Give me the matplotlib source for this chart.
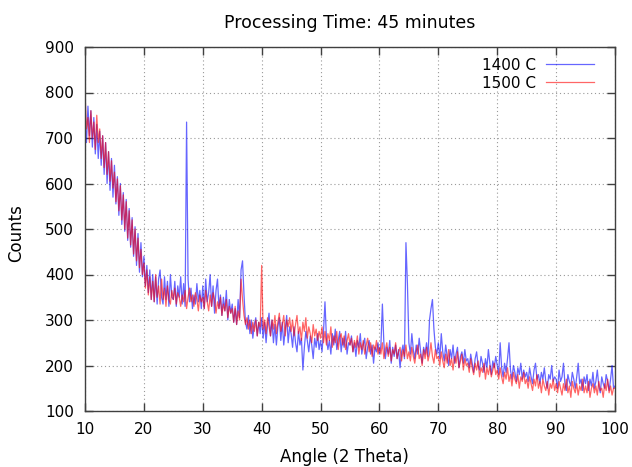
import numpy as np
import matplotlib
matplotlib.use("Agg")
from matplotlib import pyplot as plt

# angle grid: 10 .. 100 deg, 0.25 deg step
angle = np.arange(361) * 0.25 + 10.0

counts_1400 = [
    735, 690, 770, 705, 760, 680, 745, 665, 730, 655, 715, 640, 705, 620, 690, 600, 670, 585, 655, 570,
    640, 555, 615, 530, 600, 510, 580, 495, 565, 475, 545, 460, 525, 440, 505, 420, 490, 405, 470, 395,
    440, 375, 420, 360, 410, 345, 400, 340, 395, 335, 390, 410, 350, 335, 395, 345, 385, 330, 400, 350,
    345, 385, 330, 375, 350, 395, 335, 380, 330, 735, 390, 340, 370, 325, 355, 335, 380, 340, 365, 325,
    375, 325, 390, 340, 360, 400, 330, 375, 315, 365, 390, 325, 355, 310, 350, 320, 365, 300, 345, 315,
    335, 295, 325, 290, 345, 305, 410, 430, 355, 295, 280, 310, 270, 300, 260, 290, 305, 265, 295, 270,
    305, 260, 295, 250, 290, 315, 265, 300, 250, 290, 245, 285, 305, 255, 295, 245, 280, 310, 250, 285,
    270, 240, 285, 250, 230, 275, 245, 260, 190, 240, 275, 255, 230, 265, 245, 215, 260, 240, 270, 235,
    255, 230, 275, 340, 260, 235, 255, 225, 270, 245, 280, 235, 255, 275, 230, 260, 240, 275, 225, 250,
    245, 265, 230, 250, 220, 255, 240, 270, 225, 245, 260, 215, 240, 255, 225, 245, 205, 240, 230, 250,
    225, 245, 335, 250, 215, 240, 225, 255, 205, 240, 220, 245, 215, 235, 195, 230, 245, 215, 470, 380,
    250, 225, 270, 235, 215, 245, 225, 260, 230, 205, 240, 225, 250, 220, 300, 325, 345, 280, 240, 225,
    250, 215, 270, 230, 210, 245, 220, 200, 235, 215, 245, 205, 225, 240, 195, 220, 230, 205, 235, 210,
    215, 195, 225, 205, 185, 215, 230, 200, 190, 220, 205, 185, 215, 195, 235, 205, 180, 210, 195, 220,
    200, 180, 250, 195, 175, 205, 185, 215, 250, 190, 170, 200, 185, 165, 195, 180, 205, 170, 190, 175,
    185, 165, 195, 175, 160, 190, 205, 170, 180, 160, 185, 170, 195, 165, 150, 180, 170, 200, 165, 175,
    170, 150, 190, 165, 175, 205, 160, 145, 180, 165, 155, 185, 170, 150, 175, 205, 160, 170, 145, 175,
    160, 180, 145, 170, 155, 185, 150, 165, 190, 155, 140, 175, 160, 150, 180, 165, 145, 170, 200, 150,
    155,
]

counts_1500 = [
    800, 720, 745, 690, 760, 700, 735, 675, 750, 690, 720, 655, 705, 635, 690, 620, 670, 605, 650, 590,
    625, 560, 610, 540, 595, 520, 575, 500, 560, 480, 540, 465, 520, 445, 500, 430, 480, 415, 455, 400,
    425, 370, 410, 355, 395, 345, 385, 340, 400, 350, 375, 335, 390, 345, 370, 330, 375, 345, 335, 365,
    345, 370, 335, 360, 350, 330, 355, 340, 365, 325, 350, 370, 340, 355, 330, 360, 345, 320, 355, 340,
    350, 325, 365, 340, 320, 355, 330, 360, 345, 315, 340, 325, 350, 310, 335, 320, 345, 305, 330, 315,
    325, 295, 330, 290, 320, 300, 390, 345, 310, 290, 305, 280, 300, 270, 295, 275, 300, 265, 295, 285,
    420, 280, 300, 270, 305, 285, 265, 300, 280, 310, 270, 295, 315, 275, 290, 310, 265, 300, 285, 305,
    275, 300, 265, 290, 310, 270, 285, 255, 295, 275, 305, 260, 285, 270, 250, 290, 265, 280, 255, 275,
    260, 285, 250, 275, 245, 270, 255, 285, 240, 265, 250, 275, 235, 260, 270, 245, 265, 235, 255, 270,
    245, 260, 230, 255, 240, 265, 225, 250, 235, 255, 225, 245, 260, 230, 250, 220, 245, 235, 255, 225,
    240, 225, 250, 215, 235, 250, 220, 240, 210, 235, 225, 250, 215, 230, 240, 210, 235, 220, 245, 215,
    230, 210, 240, 220, 205, 230, 245, 215, 225, 200, 235, 215, 240, 210, 225, 250, 220, 205, 235, 215,
    220, 200, 230, 210, 195, 225, 205, 235, 200, 215, 190, 220, 205, 230, 195, 210, 225, 190, 215, 200,
    205, 185, 215, 195, 180, 205, 190, 210, 175, 195, 185, 205, 170, 195, 180, 200, 175, 190, 205, 180,
    190, 170, 195, 175, 160, 185, 170, 195, 165, 180, 155, 185, 170, 160, 180, 150, 175, 165, 185, 160,
    170, 150, 175, 160, 145, 170, 155, 180, 150, 165, 140, 170, 155, 145, 165, 135, 160, 150, 170, 145,
    160, 140, 165, 150, 135, 160, 145, 170, 140, 155, 130, 165, 150, 140, 160, 135, 155, 145, 170, 140,
    155, 140, 165, 130, 150, 160, 140, 155, 135, 165, 145, 150, 130, 160, 145, 170, 140, 155, 135, 150,
    150,
]

x_ticks = list(range(10, 101, 10))
y_ticks = list(range(100, 901, 100))

fig = plt.figure(figsize=(6.32, 4.67), dpi=100)
ax = fig.add_axes([85 / 632, 1 - 411 / 467, 530 / 632, 364 / 467])

ax.plot(angle, counts_1400, color="#0000ff", lw=0.9, alpha=0.6, label="1400 C")
ax.plot(angle, counts_1500, color="#ff0000", lw=0.9, alpha=0.6, label="1500 C")

ax.set_xlim(10, 100)
ax.set_ylim(100, 900)
ax.set_xticks(x_ticks)
ax.set_yticks(y_ticks)
ax.tick_params(direction="in", top=True, right=True, length=6, width=1,
               color="#404040", labelsize=11, pad=8)
ax.grid(True, linestyle=(0, (1, 2.5)), color="#999999", lw=0.8)
for s in ax.spines.values():
    s.set_linewidth(1)
    s.set_color("#404040")

ax.set_title("Processing Time: 45 minutes", fontsize=12.5, pad=14)
ax.set_xlabel("Angle (2 Theta)", fontsize=12)
ax.xaxis.set_label_coords(0.49, -0.102)
ax.set_ylabel("Counts", fontsize=12)
ax.yaxis.set_label_coords(-0.113, 0.49)

ax.legend(loc="upper right", frameon=False, markerfirst=False, fontsize=11,
          handlelength=3.15, handletextpad=0.65, labelspacing=0.2,
          borderaxespad=0.3, bbox_to_anchor=(0.981, 1.0))

fig.savefig("out.png", dpi=100)
